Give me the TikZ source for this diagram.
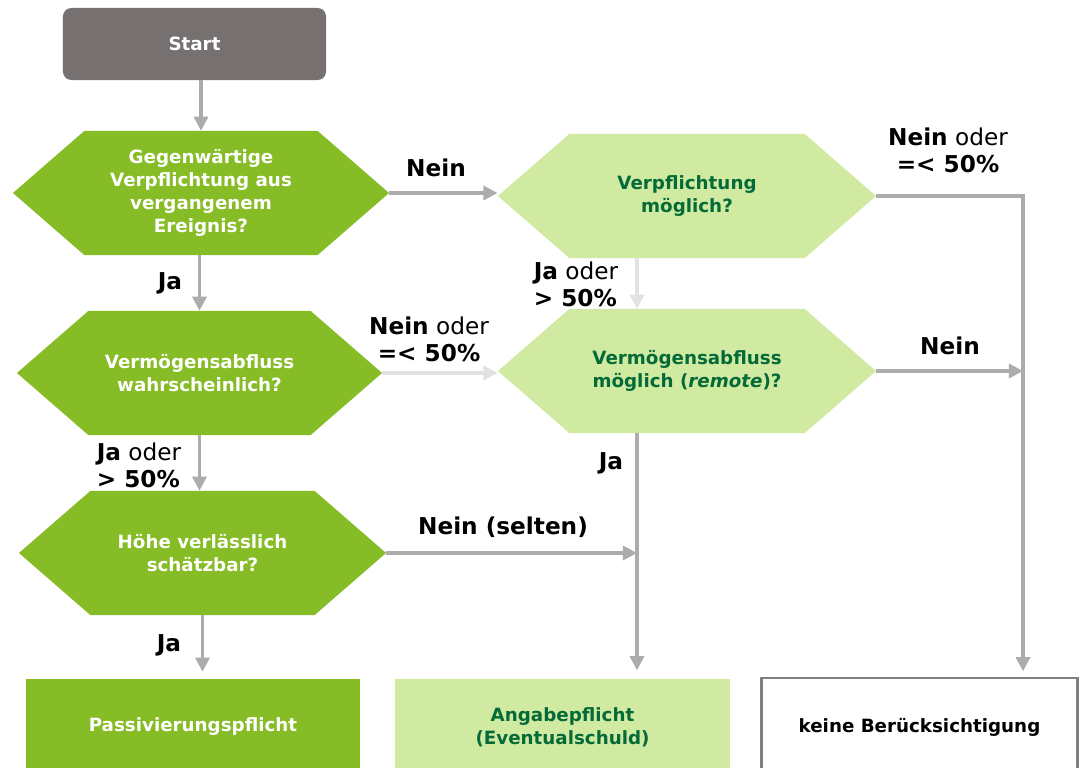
\documentclass[tikz,border=0pt]{standalone}
\usepackage{fontspec}
\setmainfont{DejaVu Sans}
\usetikzlibrary{shapes.symbols, arrows.meta, calc}

\definecolor{dkgreen}{HTML}{86BC25}
\definecolor{ltgreen}{HTML}{D0EAA2}
\definecolor{txgreen}{HTML}{046A38}
\definecolor{startgray}{HTML}{767170}
\definecolor{arrgray}{HTML}{AEABAB}
\definecolor{arrlight}{HTML}{E2E2E2}

\tikzset{
  hexdark/.style={signal, signal to=east and west, signal pointer angle=82,
    fill=dkgreen, text=white, align=center, minimum height=3.1cm,
    font=\fontsize{13}{16.3}\selectfont\bfseries},
  hexlight/.style={hexdark, fill=ltgreen, text=txgreen},
  endbox/.style={rectangle, minimum width=8.35cm, minimum height=2.4cm,
    align=center, font=\fontsize{13}{16.3}\selectfont\bfseries},
  flow/.style={draw=arrgray, line width=2.2pt, -{Triangle[length=10pt,width=10pt]}},
  flowlight/.style={flow, draw=arrlight},
  lbl/.style={font=\fontsize{16.5}{19}\selectfont, align=center, inner sep=0pt}
}

\begin{document}
\begin{tikzpicture}[x=0.025cm, y=-0.025cm]
        \useasboundingbox[fill=white] (0,0) rectangle (1081,768);

        % Left column
        \node[rectangle, rounded corners=6pt, fill=startgray, text=white,
          minimum width=6.575cm, minimum height=1.8cm,
          font=\fontsize{13}{16.3}\selectfont\bfseries] (start) at (194.5,44) {Start};
        \node[hexdark, minimum width=9.4cm] (verpfl) at (201,193)
          {Gegenwärtige\\Verpflichtung aus\\vergangenem\\Ereignis?};
        \node[hexdark, minimum width=9.125cm] (wahrsch) at (199.5,373)
          {Vermögensabfluss\\wahrscheinlich?};
        \node[hexdark, minimum width=9.175cm] (hoehe) at (202.5,553)
          {Höhe verlässlich\\schätzbar?};

        % Middle column
        \node[hexlight, minimum width=9.45cm] (moegl) at (687,196)
          {Verpflichtung\\möglich?};
        \node[hexlight, minimum width=9.45cm] (remote) at (687,371)
          {Vermögensabfluss\\möglich (\textit{remote})?};

        % Results
        \node[endbox, fill=dkgreen, text=white] (passiv) at (193,727) {Passivierungspflicht};
        \node[endbox, fill=ltgreen, text=txgreen] (angabe) at (562.5,727) {Angabepflicht\\(Eventualschuld)};
        \node[endbox, draw=gray, line width=1.6pt, fill=white, minimum width=7.9cm,
          minimum height=2.45cm] (keine) at (919.5,727) {keine Berücksichtigung};

        % Vertical buses
        \coordinate (midbus) at (637,0);
        \coordinate (rightbus) at (1023,0);

        % Connectors
        \draw[flow] (start.south -| verpfl.north) -- (verpfl.north);
        \draw[flow] (verpfl.south -| wahrsch.north) -- (wahrsch.north);
        \draw[flow] (wahrsch.south) -- (wahrsch.south |- hoehe.north);
        \draw[flow, shorten >=5pt] (hoehe.south) -- (hoehe.south |- passiv.north);
        \draw[flow] (verpfl.east) -- (verpfl.east -| moegl.west);
        \draw[flowlight] (wahrsch.east) -- (wahrsch.east -| remote.west);
        \draw[flowlight] (moegl.south -| midbus) -- (remote.north -| midbus);
        \draw[flow, shorten >=6pt] (remote.south -| midbus) -- (angabe.north -| midbus);
        \draw[flow] (hoehe.east) -- (hoehe.east -| midbus);
        \draw[flow, shorten >=4pt] (moegl.east) -| (keine.north -| rightbus);
        \draw[flow] (remote.east) -- (remote.east -| rightbus);

        % Labels
        \node[lbl] (l1) at (170,283) {\textbf{Ja}};
        \node[lbl, align=left] (l2) at (139,465) {\textbf{Ja} oder\\\textbf{> 50\%}};
        \node[lbl] (l3) at (169,645) {\textbf{Ja}};
        \node[lbl] (l4) at (436,168) {\textbf{Nein}};
        \node[lbl] (l5) at (429,339) {\textbf{Nein} oder\\\textbf{=< 50\%}};
        \node[lbl, align=left] (l6) at (576,284) {\textbf{Ja} oder\\\textbf{> 50\%}};
        \node[lbl] (l7) at (611,463) {\textbf{Ja}};
        \node[lbl] (l8) at (503,527) {\textbf{Nein (selten)}};
        \node[lbl] (l9) at (948,150) {\textbf{Nein} oder\\\textbf{=< 50\%}};
        \node[lbl] (l10) at (950,346) {\textbf{Nein}};
    \end{tikzpicture}
\end{document}
